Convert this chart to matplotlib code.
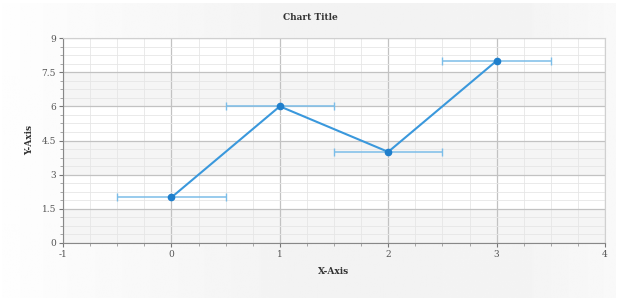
import numpy as np
import matplotlib
matplotlib.use("Agg")
import matplotlib.pyplot as plt
from matplotlib.ticker import MultipleLocator, FixedLocator

x_values = [0, 1, 2, 3]
y_values = [2, 6, 4, 8]
x_errors = [0.5, 0.5, 0.5, 0.5]
x_ticks = [-1, 0, 1, 2, 3, 4]
y_ticks = [0, 1.5, 3, 4.5, 6, 7.5, 9]
y_tick_labels = ["0", "1.5", "3", "4.5", "6", "7.5", "9"]

plt.rcParams['font.family'] = ['DejaVu Serif']
plt.rcParams['axes.unicode_minus'] = False

fig = plt.figure(figsize=(6.2, 3.0), dpi=100)
fig.patch.set_facecolor('white')
# background gradient panel
bg = fig.add_axes([2/620, 2/300, 614/620, 295/300], zorder=-10)
gx = np.linspace(0, 1, 400)
prof = np.interp(gx, [0, 0.1, 0.5, 0.85, 1.0], [0.995, 0.985, 0.95, 0.955, 0.975])
img = np.repeat(prof[None, :], 2, axis=0)
bg.imshow(img, cmap='gray', vmin=0, vmax=1, aspect='auto', extent=[0, 1, 0, 1])
bg.axis('off')

ax = fig.add_axes([63/620, 57/300, 542/620, 205/300])
ax.set_facecolor('white')
ax.set_xlim(-1, 4)
ax.set_ylim(0, 9)

# alternating bands
for i in range(len(y_ticks) - 1):
    if i % 2 == 0:
        ax.axhspan(y_ticks[i], y_ticks[i + 1], color='#f5f5f5', zorder=0, lw=0)

ax.xaxis.set_major_locator(FixedLocator(x_ticks))
ax.xaxis.set_minor_locator(MultipleLocator(0.25))
ax.yaxis.set_major_locator(FixedLocator(y_ticks))
ax.yaxis.set_minor_locator(MultipleLocator(0.375))
ax.set_yticklabels(y_tick_labels)

ax.grid(which='major', color='#c2c2c2', lw=0.9, zorder=1)
ax.grid(which='minor', color='#e6e6e6', lw=0.6, zorder=1)
ax.set_axisbelow(True)

for s in ['top', 'right']:
    ax.spines[s].set_color('#d0d0d0')
    ax.spines[s].set_linewidth(0.8)
for s in ['left', 'bottom']:
    ax.spines[s].set_color('#888888')
    ax.spines[s].set_linewidth(0.8)

ax.tick_params(which='major', length=3, width=0.8, color='#777777', labelsize=6.5,
               labelcolor='#555555', pad=2)
ax.tick_params(which='minor', length=2, width=0.6, color='#999999')

ax.errorbar(x_values, y_values, xerr=x_errors, fmt='none', ecolor='#7cbde8',
            elinewidth=1.1, capsize=3, capthick=1.0, zorder=3)
ax.plot(x_values, y_values, color='#3a98dc', lw=1.5, zorder=4)
ax.plot(x_values, y_values, 'o', color='#1f7fcc', ms=4.5, zorder=5)

fig.text(0.5, 1 - 18/300, 'Chart Title', ha='center', va='center', fontsize=6.5,
         fontweight='bold', color='#333333')
fig.text(334/620, 1 - 272/300, 'X-Axis', ha='center', va='center', fontsize=6.5,
         fontweight='bold', color='#333333')
fig.text(30/620, 1 - 140/300, 'Y-Axis', ha='center', va='center', fontsize=6.5,
         fontweight='bold', color='#333333', rotation=90)

fig.savefig('out.png', dpi=100)
